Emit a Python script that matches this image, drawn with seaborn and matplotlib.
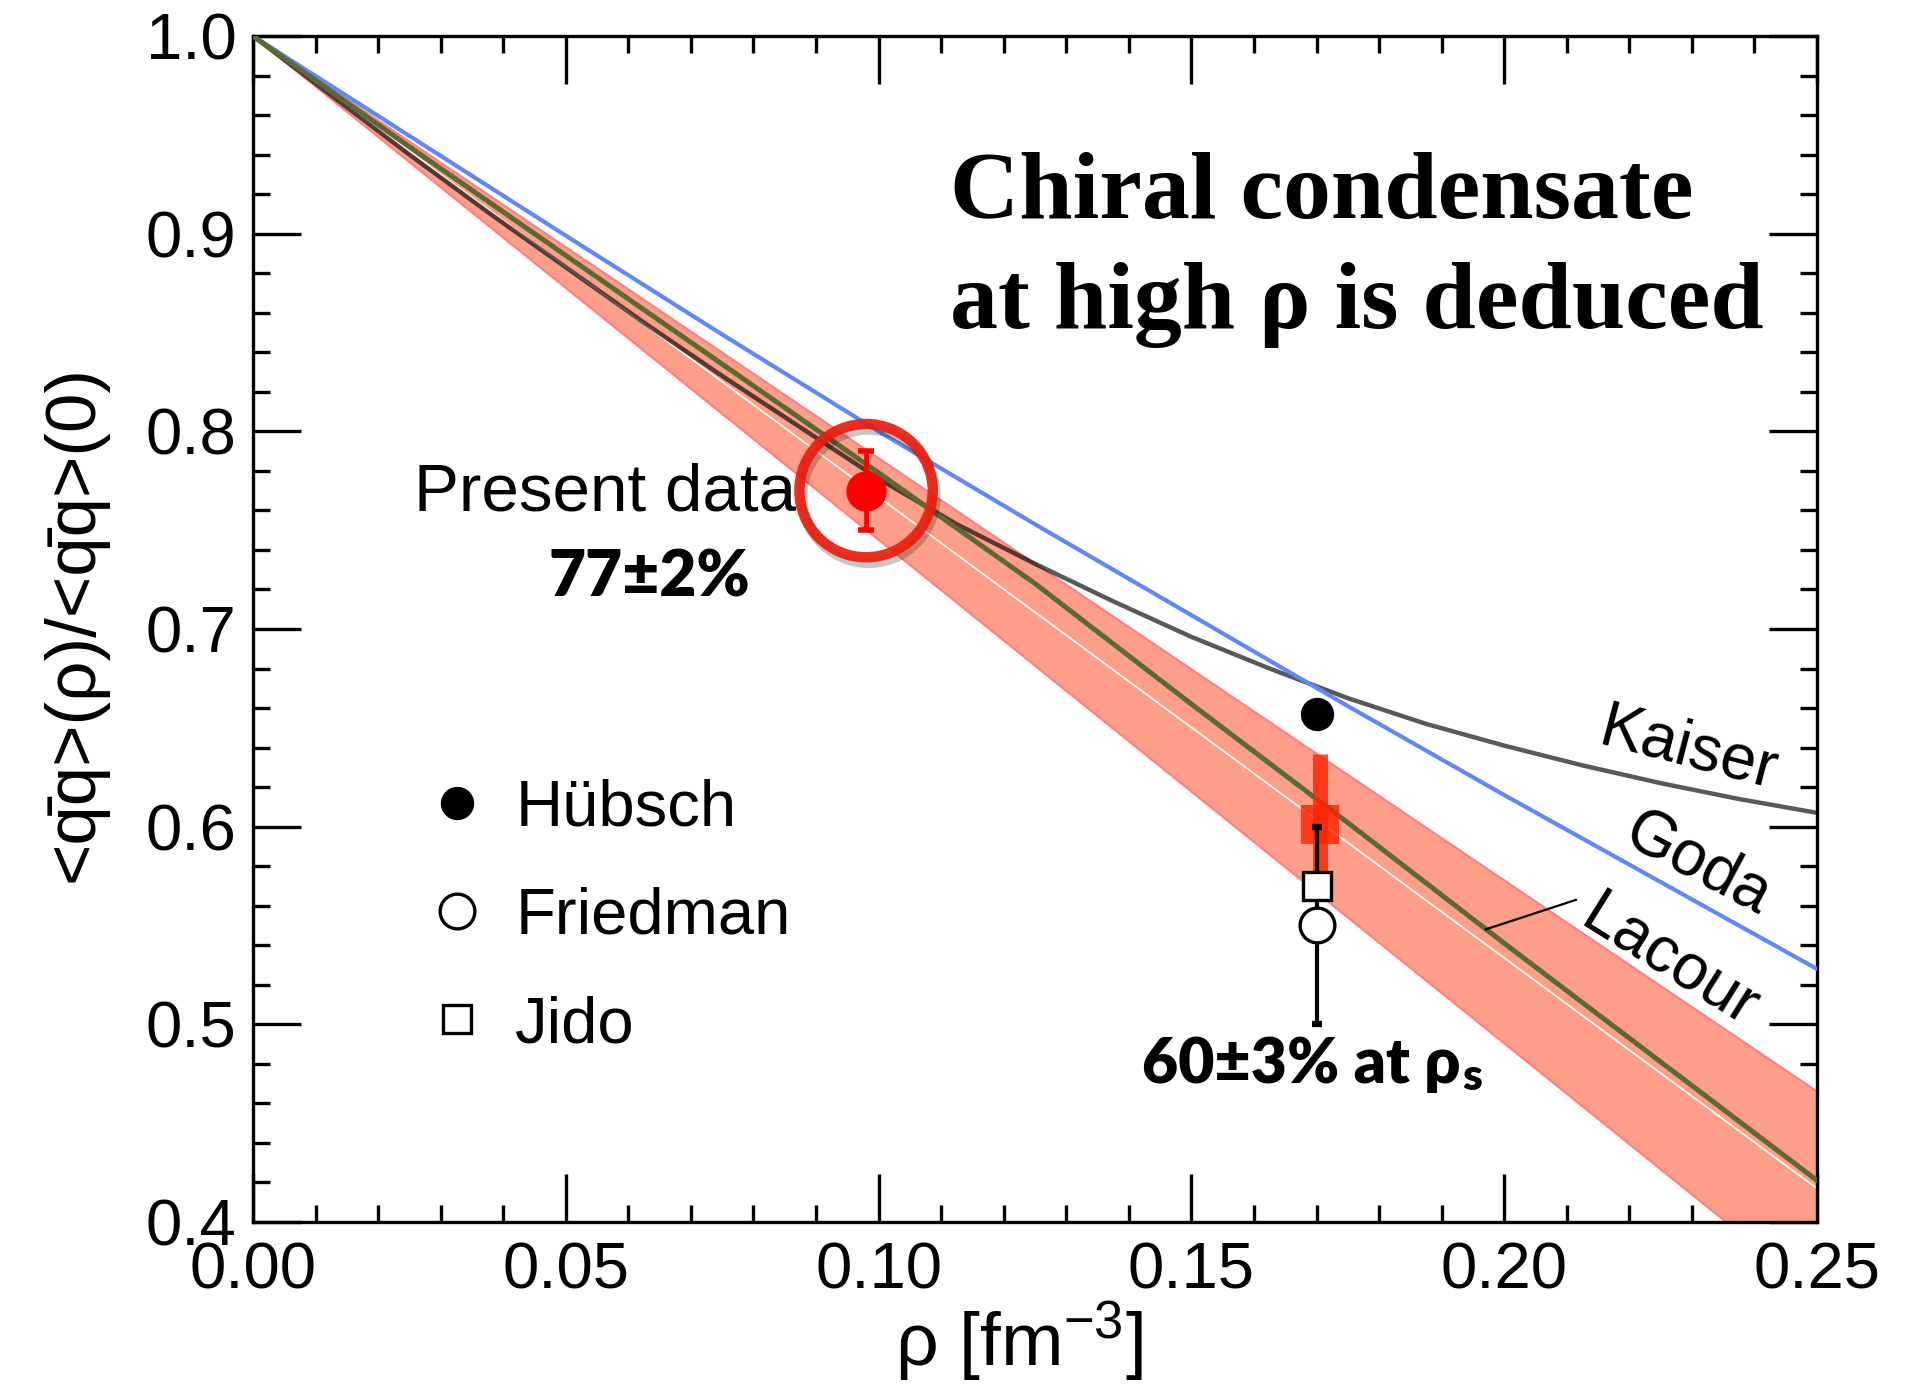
import numpy as np
import pandas as pd
import matplotlib
matplotlib.use("Agg")
import matplotlib.pyplot as plt
import matplotlib.patheffects as pe
from matplotlib.ticker import MultipleLocator, FormatStrFormatter
import seaborn as sns

# ---------------- data ----------------
kaiser_rho = [0.0, 0.0125, 0.025, 0.0375, 0.05, 0.0625, 0.075, 0.0875, 0.10, 0.1125,
              0.125, 0.1375, 0.15, 0.1625, 0.175, 0.1875, 0.20, 0.2125, 0.225, 0.2375, 0.25]
kaiser = [1.0, 0.970, 0.940, 0.911, 0.883, 0.855, 0.828, 0.802, 0.776, 0.753,
          0.733, 0.714, 0.696, 0.680, 0.665, 0.652, 0.641, 0.631, 0.622, 0.614, 0.607]

rho_grid = [0.0, 0.025, 0.05, 0.075, 0.10, 0.125, 0.15, 0.175, 0.20, 0.225, 0.25]
goda = [1.0, 0.9495, 0.899, 0.849, 0.800, 0.753, 0.707, 0.661, 0.616, 0.572, 0.528]
lacour = [1.0, 0.944, 0.889, 0.834, 0.779, 0.723, 0.662, 0.602, 0.541, 0.481, 0.421]

band_rho = [0.0, 0.25]
band_upper = [1.0, 0.466]
band_lower = [1.0, 0.363]
band_center = [1.0, 0.417]

present_rho = [0.098]
present_val = [0.770]
present_err = [0.020]

deduced_rho = [0.1705]
deduced_val = [0.601]
deduced_stat = [0.010]
deduced_sys = [0.036]

hubsch_rho = [0.170]
hubsch_val = [0.657]
friedman_rho = [0.170]
friedman_val = [0.550]
friedman_err = [0.050]
jido_rho = [0.170]
jido_val = [0.570]

x_ticks = [0.00, 0.05, 0.10, 0.15, 0.20, 0.25]
y_ticks = [0.4, 0.5, 0.6, 0.7, 0.8, 0.9, 1.0]

# ---------------- style ----------------
sns.set_theme(style="ticks")
plt.rcParams["font.family"] = ["Liberation Sans", "DejaVu Sans"]
plt.rcParams["axes.linewidth"] = 2.4
plt.rcParams["mathtext.default"] = "regular"
for k in ["text.color", "axes.labelcolor", "xtick.color", "ytick.color",
          "xtick.labelcolor", "ytick.labelcolor", "axes.edgecolor"]:
    plt.rcParams[k] = "black"

fig = plt.figure(figsize=(19.22, 13.85), dpi=100)
ax = fig.add_axes([0.1316, 0.1177, 0.8138, 0.8563])

kaiser_df = pd.DataFrame({"rho": kaiser_rho, "Kaiser": kaiser})
curves = pd.DataFrame({"rho": rho_grid, "Goda": goda, "Lacour": lacour})

# band
ax.fill_between(band_rho, band_lower, band_upper, color="#fd9f88", lw=0, zorder=1)
ax.plot(band_rho, band_upper, color="#ff7f85", lw=1.6, zorder=1.1)
ax.plot(band_rho, band_lower, color="#ff7f85", lw=1.6, zorder=1.1)
sns.lineplot(x=band_rho, y=band_center, color="white", lw=1.2, ax=ax, zorder=2)

# theory curves
sns.lineplot(data=kaiser_df, x="rho", y="Kaiser", color="black", alpha=0.65, lw=3.2, ax=ax, zorder=3)
sns.lineplot(data=curves, x="rho", y="Lacour", color="#5a6a30", lw=3.6, ax=ax, zorder=3.2)
sns.lineplot(data=curves, x="rho", y="Goda", color="#5f88fb", lw=3.0, ax=ax, zorder=3.1)

# deduced value at rho_s (red cross)
ax.vlines(deduced_rho, [v - e for v, e in zip(deduced_val, deduced_sys)],
          [v + e for v, e in zip(deduced_val, deduced_sys)],
          color="#ff2200", alpha=0.82, lw=10.8, capstyle="butt", zorder=4)
ax.vlines(deduced_rho, [v - e for v, e in zip(deduced_val, deduced_stat)],
          [v + e for v, e in zip(deduced_val, deduced_stat)],
          color="#ff2200", alpha=0.82, lw=27.5, capstyle="butt", zorder=4)

# Friedman error bar
ax.errorbar(friedman_rho, friedman_val, yerr=friedman_err, fmt="none", ecolor="black",
            elinewidth=3.0, capsize=3.5, capthick=4.5, zorder=5)

# reference points
h_hub, = ax.plot(hubsch_rho, hubsch_val, "o", color="black", ms=23, ls="none",
                 label="Hübsch", zorder=6)
h_jid, = ax.plot(jido_rho, jido_val, "s", mfc="white", mec="black", mew=2.4, ms=20,
                 ls="none", label="Jido", zorder=6)
h_fri, = ax.plot(friedman_rho, friedman_val, "o", mfc="white", mec="black", mew=2.4, ms=25,
                 ls="none", label="Friedman", zorder=6)

# present data
ax.errorbar(present_rho, present_val, yerr=present_err, fmt="o", color="#ff0000",
            ms=28, elinewidth=3.4, capsize=6, capthick=4, zorder=7)
ax.plot(present_rho, present_val, "o", mfc="none", mec="#ea1d0e", mew=7.5, ms=96, alpha=0.92,
        zorder=8,
        path_effects=[pe.SimpleLineShadow(offset=(2, -4), shadow_color="black", alpha=0.22),
                      pe.Normal()])

# Lacour pointer
ax.plot([0.197, 0.2115], [0.548, 0.563], color="black", lw=1.6, zorder=5)

# ---------------- axes ----------------
ax.set_xlim(0.0, 0.25)
ax.set_ylim(0.4, 1.0)
ax.set_xticks(x_ticks)
ax.set_yticks(y_ticks)
ax.xaxis.set_major_formatter(FormatStrFormatter("%.2f"))
ax.yaxis.set_major_formatter(FormatStrFormatter("%.1f"))
ax.xaxis.set_minor_locator(MultipleLocator(0.01))
ax.yaxis.set_minor_locator(MultipleLocator(0.02))
ax.tick_params(which="both", direction="in", top=True, right=True, width=2.4, color="black",
               labelcolor="black")
ax.tick_params(which="major", length=34.5, labelsize=47)
ax.tick_params(which="minor", length=12)
ax.tick_params(axis="x", which="major", pad=14)
ax.tick_params(axis="y", which="major", pad=12)
for s in ax.spines.values():
    s.set_color("black")
    s.set_linewidth(2.4)

ax.set_xlabel("ρ [fm$^{\\mathregular{-3}}$]", fontsize=54, color="black")
ax.set_ylabel("<q\u0304q>(ρ)/<q\u0304q>(0)", fontsize=51, color="black")
ax.xaxis.set_label_coords(0.4898, -0.065)
ax.yaxis.set_label_coords(-0.093, 0.505)

# ---------------- texts ----------------
ax.text(0.1114, 0.9079, "Chiral condensate", family=["Liberation Serif", "DejaVu Serif"],
        weight="bold", fontsize=69, ha="left", va="baseline", color="black")
ax.text(0.1114, 0.8523, "at high ρ is deduced", family=["Liberation Serif", "DejaVu Serif"],
        weight="bold", fontsize=69, ha="left", va="baseline", color="black")

ax.text(0.0868, 0.760, "Present data", fontsize=48.5, ha="right", va="baseline", color="black")
ax.text(0.0633, 0.7162, "77±2%", family=["Lato", "DejaVu Sans"], weight="heavy",
        fontsize=46, ha="center", va="baseline", color="black")

t60 = ax.text(0.1421, 0.4703, "60±3% at ρ", family=["Lato", "DejaVu Sans"], weight="heavy",
              fontsize=45, ha="left", va="baseline", color="black")
fig.canvas.draw()
w_pt = t60.get_window_extent().width * 72.0 / fig.dpi
ax.annotate("s", xy=(0.1421, 0.4703), xycoords="data", xytext=(w_pt + 1, -5),
            textcoords="offset points", family=["Lato", "DejaVu Sans"], weight="heavy",
            fontsize=32, ha="left", va="baseline", color="black")

ax.text(0.2295, 0.6388, "Kaiser", fontsize=46, rotation=-14.6, rotation_mode="anchor",
        ha="center", va="center", color="black")
ax.text(0.231, 0.581, "Goda", fontsize=46, rotation=-28, rotation_mode="anchor",
        ha="center", va="center", color="black")
ax.text(0.2264, 0.5315, "Lacour", fontsize=46, rotation=-32, rotation_mode="anchor",
        ha="center", va="center", color="black")

# legend
ax.legend(handles=[h_hub, h_fri, h_jid], loc="upper left", bbox_to_anchor=(0.1097, 0.374),
          frameon=False, fontsize=47, handlelength=1.0, handletextpad=0.39,
          borderpad=0.0, borderaxespad=0.0, labelspacing=0.74, labelcolor="black")

fig.savefig("out.png", dpi=100)
